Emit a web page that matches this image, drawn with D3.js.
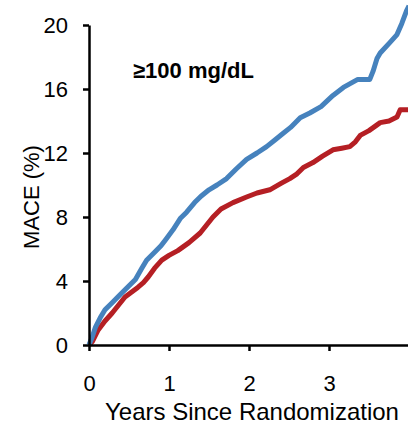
<!DOCTYPE html>
<html>
<head>
<meta charset="utf-8">
<script src="https://cdn.jsdelivr.net/npm/d3@7"></script>
<style>
  body { margin: 0; background: #fff; }
  svg { display: block; font-family: "Liberation Sans", Arial, sans-serif; }
</style>
</head>
<body>
<svg id="chart" width="408" height="425"></svg>
<script>
// Data (years, MACE %)
const blueYears = [0, 0.04, 0.08, 0.14, 0.2, 0.28, 0.36, 0.46, 0.58, 0.66, 0.72, 0.82, 0.9, 0.96, 1.05, 1.14, 1.22, 1.32, 1.4, 1.5, 1.6, 1.72, 1.84, 1.97, 2.1, 2.22, 2.32, 2.42, 2.52, 2.64, 2.76, 2.9, 3.05, 3.18, 3.36, 3.51, 3.55, 3.6, 3.64, 3.76, 3.85, 3.91, 3.97, 4.0];
const blueMace  = [0, 0.5, 1.1, 1.7, 2.2, 2.6, 3.0, 3.5, 4.1, 4.8, 5.3, 5.8, 6.2, 6.6, 7.2, 7.9, 8.3, 8.9, 9.3, 9.7, 10.0, 10.4, 11.0, 11.6, 12.0, 12.4, 12.8, 13.2, 13.6, 14.2, 14.5, 14.9, 15.6, 16.1, 16.6, 16.6, 17.1, 17.9, 18.25, 18.9, 19.4, 20.1, 20.9, 21.2];
const redYears  = [0, 0.04, 0.11, 0.2, 0.29, 0.37, 0.45, 0.53, 0.61, 0.68, 0.74, 0.82, 0.91, 1.0, 1.11, 1.25, 1.39, 1.47, 1.55, 1.65, 1.8, 1.97, 2.1, 2.26, 2.4, 2.51, 2.6, 2.68, 2.8, 2.92, 3.05, 3.16, 3.26, 3.33, 3.39, 3.5, 3.64, 3.75, 3.85, 3.89, 4.0];
const redMace   = [0, 0.2, 0.9, 1.5, 2.0, 2.5, 3.0, 3.3, 3.6, 3.9, 4.25, 4.8, 5.3, 5.6, 5.9, 6.4, 7.0, 7.5, 8.0, 8.5, 8.9, 9.25, 9.5, 9.7, 10.1, 10.4, 10.7, 11.1, 11.4, 11.8, 12.2, 12.3, 12.4, 12.7, 13.1, 13.4, 13.9, 14.0, 14.25, 14.7, 14.7];
const yTicks = [0, 4, 8, 12, 16, 20];
const xTicks = [0, 1, 2, 3];

const svg = d3.select("#chart");
const x = d3.scaleLinear().domain([0, 4]).range([89, 409]);
const y = d3.scaleLinear().domain([0, 20]).range([345, 25]);

// curves
const line = d3.line()
    .x(d => x(d[0]))
    .y(d => y(d[1]));

const series = [
    { pts: d3.zip(redYears, redMace), color: "#b51f24" },
    { pts: d3.zip(blueYears, blueMace), color: "#4682bd" }
];

svg.selectAll(".curve")
    .data(series)
    .join("path")
    .attr("class", "curve")
    .attr("fill", "none")
    .attr("stroke", d => d.color)
    .attr("stroke-width", 5)
    .attr("stroke-linejoin", "round")
    .attr("d", d => line(d.pts));

// axes
const yAxis = svg.append("g")
    .attr("transform", "translate(89,0)")
    .call(d3.axisLeft(y).tickValues(yTicks).tickFormat(d3.format("d"))
        .tickSize(6).tickPadding(15).tickSizeOuter(0));
const xAxis = svg.append("g")
    .attr("transform", "translate(0,345)")
    .call(d3.axisBottom(x).tickValues(xTicks).tickFormat(d3.format("d"))
        .tickSize(6).tickPadding(24).tickSizeOuter(0));

[yAxis, xAxis].forEach(a => {
    a.select(".domain").attr("stroke", "#000").attr("stroke-width", 2.5);
    a.selectAll(".tick line").attr("stroke", "#000").attr("stroke-width", 2.5);
    a.selectAll(".tick text")
        .attr("fill", "#000")
        .style("font-size", "22px")
        .style("font-family", "'Liberation Sans', Arial, sans-serif");
});

// axis titles
svg.append("text")
    .attr("x", 252)
    .attr("y", 420)
    .attr("text-anchor", "middle")
    .style("font-size", "24px")
    .text("Years Since Randomization");

svg.append("text")
    .attr("transform", "rotate(-90)")
    .attr("x", -197)
    .attr("y", 39)
    .attr("text-anchor", "middle")
    .style("font-size", "22px")
    .text("MACE (%)");

// annotation
svg.append("text")
    .attr("x", 133)
    .attr("y", 78)
    .style("font-size", "22px")
    .style("font-weight", "bold")
    .text("≥100 mg/dL");
</script>
</body>
</html>
